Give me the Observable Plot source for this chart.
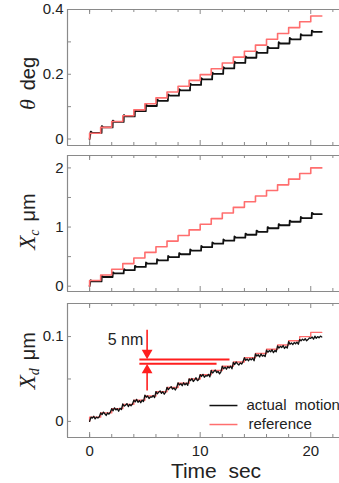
<!DOCTYPE html>
<html><head><meta charset="utf-8">
<script src="https://cdn.jsdelivr.net/npm/d3@7"></script>
<script src="https://cdn.jsdelivr.net/npm/@observablehq/plot@0.6"></script>
<style>
html,body{margin:0;padding:0;background:#fff;}
#chart{width:339px;height:483px;overflow:hidden;}
#chart svg{display:block;}
</style></head><body><div id="chart"></div>
<script>
// ---- data ----
const stepStarts = [0,1,2,3,4,5,6,7,8,9,10,11,12,13,14,15,16,17,18,19,20];
const endTime = 21;
const thetaRef = [0.018,0.036,0.054,0.072,0.090,0.109,0.127,0.145,0.163,0.181,0.199,0.217,0.235,0.253,0.271,0.290,0.308,0.326,0.344,0.362,0.380];
const thetaAct = [0.019,0.036,0.053,0.070,0.086,0.102,0.118,0.134,0.150,0.167,0.184,0.201,0.218,0.235,0.251,0.266,0.281,0.295,0.308,0.320,0.331];
const xcRef = [0.095,0.190,0.286,0.381,0.476,0.571,0.667,0.762,0.857,0.952,1.048,1.143,1.238,1.333,1.429,1.524,1.619,1.714,1.810,1.905,2.000];
const xcAct = [0.08,0.155,0.215,0.27,0.325,0.38,0.435,0.49,0.54,0.60,0.66,0.72,0.77,0.82,0.87,0.92,0.98,1.03,1.09,1.15,1.22];
const xdRef = [0.005,0.010,0.015,0.020,0.025,0.030,0.035,0.040,0.045,0.050,0.055,0.060,0.065,0.070,0.075,0.080,0.085,0.090,0.095,0.100,0.105];
// actual motion X_d, sampled every 1/8 s from t = 0 to 21
const xdActStep = 0.125;
const xdAct = [
  0.000,0.005,0.004,0.006,0.003,0.005,0.004,0.0055,
  0.010,0.008,0.011,0.009,0.007,0.010,0.0085,0.011,
  0.015,0.0125,0.016,0.0135,0.015,0.012,0.0155,0.014,
  0.0205,0.018,0.019,0.021,0.0175,0.020,0.0185,0.0205,
  0.025,0.023,0.026,0.0225,0.0245,0.022,0.025,0.0235,
  0.031,0.0285,0.030,0.027,0.029,0.0285,0.0305,0.028,
  0.035,0.0325,0.0345,0.036,0.033,0.035,0.032,0.0345,
  0.040,0.0375,0.0395,0.041,0.038,0.0395,0.037,0.040,
  0.0455,0.043,0.0445,0.042,0.0455,0.043,0.045,0.0425,
  0.050,0.048,0.0505,0.047,0.049,0.0515,0.048,0.0495,
  0.055,0.053,0.0555,0.052,0.054,0.0535,0.0555,0.0525,
  0.060,0.057,0.059,0.0605,0.0575,0.059,0.056,0.0585,
  0.065,0.062,0.064,0.0615,0.0645,0.063,0.065,0.062,
  0.0695,0.067,0.070,0.068,0.0665,0.069,0.0675,0.0705,
  0.075,0.072,0.0735,0.0715,0.074,0.0725,0.0745,0.0715,
  0.0795,0.077,0.0785,0.076,0.0795,0.077,0.078,0.0765,
  0.084,0.0815,0.0835,0.082,0.0845,0.081,0.0835,0.082,
  0.089,0.0865,0.0885,0.087,0.0895,0.086,0.088,0.0865,
  0.094,0.091,0.0925,0.0905,0.093,0.0915,0.0935,0.091,
  0.0965,0.095,0.097,0.0955,0.0975,0.095,0.0965,0.0985,
  0.098,0.0995,0.097,0.1005,0.098,0.100,0.0985,0.1005,
  0.0995
];
const xTicksMinor = [0,2,4,6,8,12,14,16,18,22];
const xTicksMajor = [0,10,20];
const xTickLabels = [0,10,20];
const thetaTicks = [0,0.1,0.2,0.3,0.4], thetaLabels = [0,0.2,0.4];
const xcTicks = [0,0.5,1,1.5,2], xcLabels = [0,1,2];
const xdTicks = [0,0.05,0.1], xdLabels = [0,0.1];
const legendLabels = ["actual  motion","reference"];
const annotationText = "5 nm";
const annotationLevels = [0.073, 0.068];
const axisTitle = "Time  sec";

// ---- styling ----
const W = 339, ML = 67, PW = W - ML;
const xDomain = [-2, 22.6];
const frameColor = "#8a8a8a";
const refColor = "#ff6e6e";
const actColor = "#111";
const annColor = "#ff1e1e";
const font = "'Liberation Sans', Arial, sans-serif";

function refPoints(ref) {
  const pts = [{t: 0, v: 0}];
  stepStarts.forEach((t, i) => pts.push({t, v: ref[i]}));
  pts.push({t: endTime, v: ref[ref.length - 1]});
  return pts;
}
function actPoints(act, overshoot) {
  const pts = [{t: 0, v: 0}];
  stepStarts.forEach((t, i) => {
    if (i > 0) pts.push({t: t + 0.08, v: act[i - 1]});
    pts.push({t: t + 0.1, v: act[i] + overshoot});
    pts.push({t: t + 0.25, v: act[i]});
  });
  pts.push({t: endTime, v: act[act.length - 1]});
  return pts;
}

function panel({height, mt, mb, yDomain, yTicks, yLabels, marks, bottomAxis}) {
  const PH = height - mt - mb;
  const m = [
    Plot.ruleX([xDomain[0]], {stroke: frameColor, strokeWidth: 1.2}),
    Plot.ruleY([yDomain[0], yDomain[1]], {stroke: frameColor, strokeWidth: 1.2}),
    Plot.ruleX(xTicksMinor, {stroke: frameColor, insetTop: PH - 3}),
    Plot.ruleX(xTicksMinor, {stroke: frameColor, insetBottom: PH - 3}),
    Plot.ruleX(xTicksMajor, {stroke: frameColor, insetTop: PH - 5}),
    Plot.ruleX(xTicksMajor, {stroke: frameColor, insetBottom: PH - 5}),
    Plot.ruleY(yTicks, {stroke: frameColor, insetRight: PW - 4}),
    Plot.axisY(yLabels, {anchor: "left", tickSize: 0, tickPadding: 4, tickFormat: d => String(d), label: null, fill: "#222", fontSize: 15}),
    ...marks
  ];
  if (bottomAxis) m.push(Plot.axisX(xTickLabels, {anchor: "bottom", tickSize: 0, tickPadding: 8, tickFormat: d => String(d), label: null, fill: "#222", fontSize: 15}));
  return Plot.plot({
    width: W, height, marginLeft: ML, marginRight: 0, marginTop: mt, marginBottom: mb,
    x: {domain: xDomain, ...(bottomAxis ? {} : {axis: null})},
    y: {domain: yDomain},
    style: {fontFamily: font, fontSize: "15px", background: "#fff", color: "#222", overflow: "visible"},
    marks: m
  });
}

function yTitle(svg, cx, cy, parts) {
  const t = d3.select(svg).append("text")
    .attr("transform", `translate(${cx},${cy}) rotate(-90)`)
    .attr("text-anchor", "middle").attr("fill", "#222");
  parts.forEach(p => {
    const s = t.append("tspan").text(p.text)
      .attr("font-family", p.serif ? "'Liberation Serif', 'Times New Roman', serif" : font)
      .attr("font-size", p.size).attr("font-style", p.italic ? "italic" : "normal");
    if (p.dx) s.attr("dx", p.dx);
    if (p.dy) s.attr("dy", p.dy);
  });
}

const chart = document.getElementById("chart");

// Panel 1: theta
const p1 = panel({
  height: 150, mt: 9, mb: 5, yDomain: [-0.02, 0.4], yTicks: thetaTicks, yLabels: thetaLabels,
  marks: [
    Plot.line(actPoints(thetaAct, 0.004), {x: "t", y: "v", stroke: actColor, strokeWidth: 1.8}),
    Plot.line(refPoints(thetaRef), {x: "t", y: "v", stroke: refColor, strokeWidth: 1.6, curve: "step-after"})
  ]
});
yTitle(p1, 35, 83.5, [{text: "θ", serif: true, italic: true, size: 22}, {text: "deg", size: 20, dx: 9}]);
chart.appendChild(p1);

// Panel 2: X_c
const p2 = panel({
  height: 146, mt: 5, mb: 5, yDomain: [-0.09, 2.21], yTicks: xcTicks, yLabels: xcLabels,
  marks: [
    Plot.line(actPoints(xcAct, 0.02), {x: "t", y: "v", stroke: actColor, strokeWidth: 1.8}),
    Plot.line(refPoints(xcRef), {x: "t", y: "v", stroke: refColor, strokeWidth: 1.6, curve: "step-after"})
  ]
});
yTitle(p2, 35, 71.5, [{text: "X", serif: true, italic: true, size: 23}, {text: "c", serif: true, italic: true, size: 14, dy: 4}, {text: "μm", size: 20, dx: 8, dy: -4}]);
chart.appendChild(p2);

// Panel 3: X_d
const xdActPts = xdAct.map((v, i) => ({t: i * xdActStep, v}));
const arrowX = 5.2;
const p3 = panel({
  height: 187, mt: 7, mb: 46, yDomain: [-0.019, 0.139], yTicks: xdTicks, yLabels: xdLabels, bottomAxis: true,
  marks: [
    Plot.line(refPoints(xdRef), {x: "t", y: "v", stroke: refColor, strokeWidth: 1.4, curve: "step-after"}),
    Plot.line(xdActPts, {x: "t", y: "v", stroke: actColor, strokeWidth: 1.3}),
    // 5 nm annotation
    Plot.link([{x1: 4.5, x2: 12.65, y: annotationLevels[0]}, {x1: 4.5, x2: 11.48, y: annotationLevels[1]}],
      {x1: "x1", x2: "x2", y1: "y", y2: "y", stroke: annColor, strokeWidth: 2}),
    Plot.link([{y1: 0.108, y2: annotationLevels[0] + 0.004}, {y1: 0.0364, y2: annotationLevels[1] - 0.004}],
      {x1: arrowX, x2: arrowX, y1: "y1", y2: "y2", stroke: annColor, strokeWidth: 1.6}),
    Plot.dot([{y: annotationLevels[0]}], {x: arrowX, y: "y", symbol: "triangle", r: 4, fill: annColor, stroke: "none", rotate: 180, dy: -6.5}),
    Plot.dot([{y: annotationLevels[1]}], {x: arrowX, y: "y", symbol: "triangle", r: 4, fill: annColor, stroke: "none", dy: 6.5}),
    Plot.text([annotationText], {x: 4.85, y: 0.0962, text: d => d, textAnchor: "end", fontSize: 16, fill: "#222"}),
    // legend
    Plot.link([{y: 0.0187, c: actColor}, {y: -0.0037, c: refColor}], {x1: 10.84, x2: 13.37, y1: "y", y2: "y", stroke: "c", strokeWidth: 1.5}),
    Plot.text([{y: 0.0187, s: legendLabels[0], x: 14.19}, {y: -0.0037, s: legendLabels[1], x: 14.37}],
      {x: "x", y: "y", text: "s", textAnchor: "start", fontSize: 15, fill: "#222"})
  ]
});
d3.select(p3).append("text").attr("x", 216).attr("y", 182).attr("text-anchor", "middle")
  .attr("font-family", font).attr("font-size", 21).attr("fill", "#222")
  .style("white-space", "pre").text(axisTitle);
yTitle(p3, 35, 64.7, [{text: "X", serif: true, italic: true, size: 23}, {text: "d", serif: true, italic: true, size: 14, dy: 4}, {text: "μm", size: 20, dx: 8, dy: -4}]);
chart.appendChild(p3);
</script></body></html>
